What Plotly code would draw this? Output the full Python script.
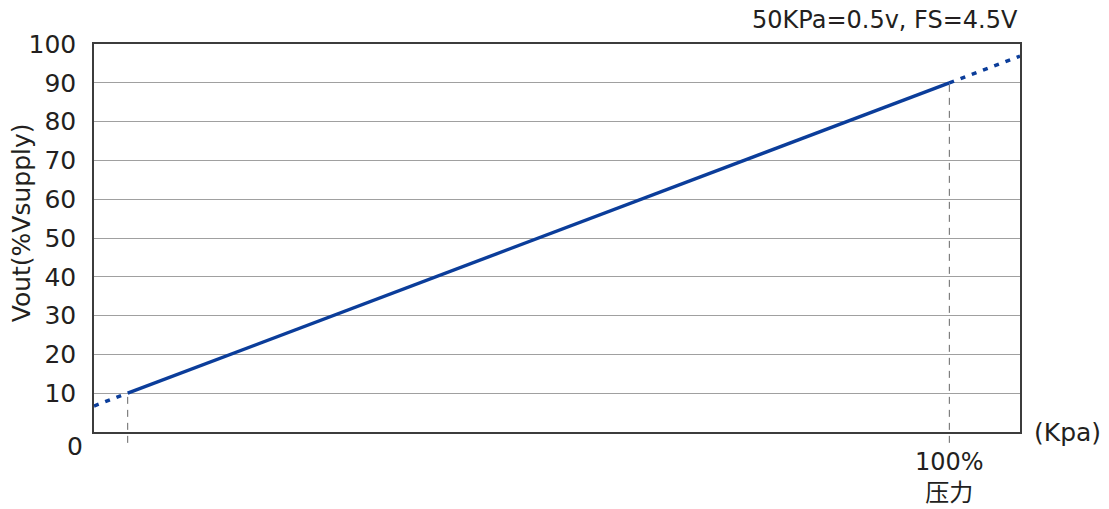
import plotly.graph_objects as go

# 压力 (% of full scale) vs 输出 (% Vsupply)
pressure = [0, 100]
vout = [10, 90]
# 延长线（虚线部分）
ext_low_x = [-4.1, 0]
ext_low_y = [6.7, 10]
ext_high_x = [100, 108.6]
ext_high_y = [90, 96.9]
y_ticks = [10, 20, 30, 40, 50, 60, 70, 80, 90, 100]

BLUE = "#0b3d9a"
INK = "#231f20"
FONT = "DejaVu Sans, Noto Sans CJK SC, Arial, sans-serif"

fig = go.Figure()
fig.add_trace(go.Scatter(
    x=ext_low_x, y=ext_low_y, mode="lines",
    line=dict(color=BLUE, width=3.5, dash="5px,7px"),
))
fig.add_trace(go.Scatter(
    x=ext_high_x, y=ext_high_y, mode="lines",
    line=dict(color=BLUE, width=3.5, dash="5px,7px"),
))
fig.add_trace(go.Scatter(
    x=pressure, y=vout, mode="lines",
    line=dict(color=BLUE, width=3.4),
))

# 参考虚线：从曲线端点向下穿过横轴
for px_, py_ in zip(pressure, vout):
    fig.add_shape(
        type="line", xref="x", yref="paper",
        x0=px_, x1=px_, y0=-0.028, y1=py_ / 100,
        line=dict(color="#666666", width=1, dash="7px,6px"),
        layer="below",
    )

fig.update_layout(
    width=1109, height=509,
    margin=dict(l=94, r=89, t=44, b=77),
    plot_bgcolor="white",
    paper_bgcolor="white",
    showlegend=False,
    font=dict(family=FONT, color=INK),
    xaxis=dict(
        range=[-4.1, 108.6], showticklabels=False, showgrid=False,
        zeroline=False, showline=True, linecolor="#3c3c3c", linewidth=1.5,
        mirror=True, ticks="",
    ),
    yaxis=dict(
        range=[0, 100], tickvals=y_ticks, showgrid=True,
        gridcolor="#a0a0a0", gridwidth=1, zeroline=False,
        showline=True, linecolor="#3c3c3c", linewidth=1.5, mirror=True,
        ticks="", ticklabelstandoff=11,
        tickfont=dict(size=25, color=INK),
    ),
    annotations=[
        dict(text="0", xref="paper", yref="paper",
             x=-0.01, y=-0.038, xanchor="right", yanchor="middle",
             showarrow=False, font=dict(size=25)),
        dict(text="50KPa=0.5v, FS=4.5V", xref="paper", yref="paper",
             x=1.0, y=1.062, xanchor="right", yanchor="middle",
             showarrow=False, font=dict(size=24)),
        dict(text="Vout(%Vsupply)", xref="paper", yref="paper",
             x=-0.078, y=0.54, xanchor="center", yanchor="middle",
             textangle=-90, showarrow=False, font=dict(size=25)),
        dict(text="(Kpa)", xref="paper", yref="paper",
             x=1.013, y=0.0, xanchor="left", yanchor="middle",
             showarrow=False, font=dict(size=25)),
        dict(text="100%<br>压力", xref="x", yref="paper",
             x=100, y=-0.117, xanchor="center", yanchor="middle",
             showarrow=False, font=dict(size=24)),
    ],
)

# 去掉页面 body 默认的 8px 边距，让图表贴齐窗口左上角
fig.write_html("out.html", config={"displayModeBar": False},
               post_script="document.body.style.margin='0';")
